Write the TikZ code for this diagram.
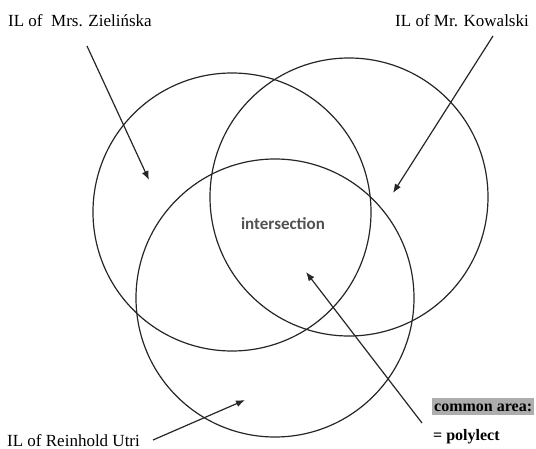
\documentclass[tikz,border=0pt]{standalone}
\usepackage{fontspec}
\setmainfont{Liberation Serif}
\newfontfamily\carlito{Carlito}
\usetikzlibrary{arrows.meta}

\begin{document}
\begin{tikzpicture}[
    x=1pt, y=-1pt,
    ring/.style={
        circle,
        draw=black!85,
        line width=1.2pt,
        minimum size=278pt,
        inner sep=0pt
    },
    lbl/.style={anchor=base west, inner sep=0pt, font=\fontsize{17}{20}\selectfont},
    keylbl/.style={anchor=base west, inner sep=0pt, font=\fontsize{16}{19}\selectfont\bfseries},
    pointer/.style={-{Latex[length=9pt,width=7pt]}, line width=1.2pt, black!85}
]
    \useasboundingbox (0,0) rectangle (536,449);

    % Idiolects
    \node[ring] (zie) at (232,212) {};
    \node[ring] (kow) at (349,197) {};
    \node[ring] (utr) at (275,298) {};

    % Labels
    \node[lbl] (zielabel) at (8,27) {IL of\ \ Mrs. Zielińska};
    \node[lbl] (kowlabel) at (395,27) {IL of Mr. Kowalski};
    \node[lbl] (utrlabel) at (7,446) {IL of Reinhold Utri};
    \node[font=\carlito\fontsize{17}{20}\selectfont\bfseries, text=black!68] (inter) at (283,224) {intersection};

    % Legend
    \node[keylbl, fill=black!32, inner xsep=2pt, inner ysep=1pt, text height=12pt, text depth=3pt] (common) at (432,411) {common area:};
    \node[keylbl] (poly) at (433,440) {= polylect};

    % Arrow ends
    \coordinate (zietail) at (87,46);
    \coordinate (zietip) at (149,180);
    \coordinate (kowtail) at (493,36);
    \coordinate (kowtip) at (393,193);
    \coordinate (utrtail) at (153,440);
    \coordinate (utrtip) at (245,400);
    \coordinate (polytail) at (422,423);
    \coordinate (polytip) at (306,272);

    % Arrows
    \draw[pointer] (zietail) -- (zietip);
    \draw[pointer] (kowtail) -- (kowtip);
    \draw[pointer] (utrtail) -- (utrtip);
    \draw[pointer] (polytail) -- (polytip);
\end{tikzpicture}
\end{document}
